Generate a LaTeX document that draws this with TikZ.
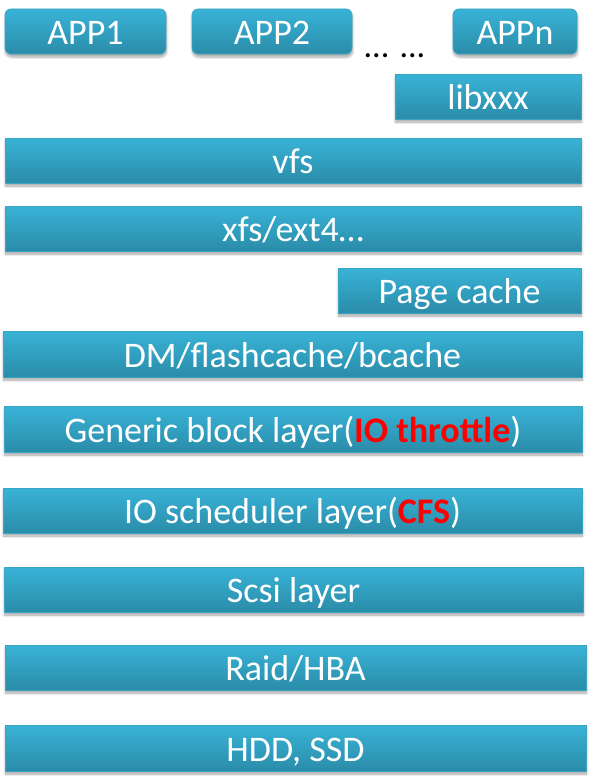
\documentclass[tikz,border=0pt]{standalone}
\usepackage{fontspec}
\setmainfont{Carlito}
\usetikzlibrary{shadows.blur}
\definecolor{boxtop}{HTML}{39B3D7}
\definecolor{boxbot}{HTML}{2A8CA9}
\definecolor{boxline}{HTML}{3AA5C3}
\definecolor{hot}{HTML}{FF0000}
\tikzset{
  layerbox/.style={draw=boxline, line width=0.8pt, top color=boxtop, bottom color=boxbot,
    text=white, font=\fontsize{36}{38}\selectfont, inner sep=0pt,
    text height=26.5pt, text depth=0pt, minimum height=45pt,
    blur shadow={shadow xshift=0.5pt, shadow yshift=-3pt, shadow blur steps=6, shadow blur radius=2.5pt, shadow opacity=35}},
  appbox/.style={layerbox, rounded corners=6pt}
}
\newcommand{\hot}[1]{\textcolor{hot}{\textbf{#1}}}
\begin{document}
\begin{tikzpicture}[x=1pt,y=-1pt]
\useasboundingbox (0,0) rectangle (598,776);
\node[appbox, minimum width=161pt] (app1) at (85.5,31.5) {APP1};
\node[appbox, minimum width=160pt] (app2) at (272,31.5) {APP2};
\node[appbox, minimum width=124pt] (appn) at (515,31.5) {APPn};
\node[font=\fontsize{34}{36}\selectfont, anchor=base, inner sep=0pt] (dots) at (394.5,57) {... ...};
\node[layerbox, minimum width=186pt] (lib) at (488,96.5) {libxxx};
\node[layerbox, minimum width=576pt] (vfs) at (293,160.5) {vfs};
\node[layerbox, minimum width=576pt] (xfs) at (293,228.5) {xfs/ext4…};
\node[layerbox, minimum width=243pt] (pc) at (459.5,290.5) {Page cache};
\node[layerbox, minimum width=579pt, minimum height=46pt] (dm) at (292.5,354) {DM/flashcache/bcache};
\node[layerbox, minimum width=578pt, minimum height=46pt] (gbl) at (293,429) {Generic block layer(\hot{IO throttle})};
\node[layerbox, minimum width=579pt] (ios) at (292.5,510.5) {IO scheduler layer(\hot{CFS})};
\node[layerbox, minimum width=579pt] (scsi) at (293.5,589.5) {Scsi layer};
\node[layerbox, minimum width=581pt] (raid) at (295.5,667.5) {Raid/HBA};
\node[layerbox, minimum width=581pt, minimum height=46pt] (hdd) at (295.5,748) {HDD, SSD};
\end{tikzpicture}
\end{document}
